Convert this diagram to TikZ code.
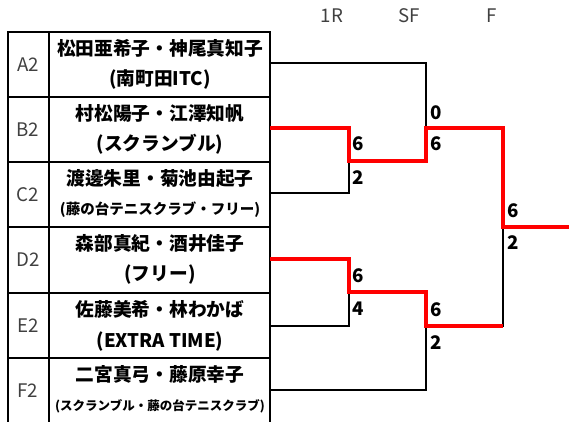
\documentclass[tikz,border=0pt]{standalone}
\usepackage{fontspec}
\setmainfont{Noto Sans CJK JP}
\usetikzlibrary{positioning}
\tikzstyle{tabline} = [line width=2pt, draw=black]
\tikzstyle{lose} = [line width=2pt, draw=black]
\tikzstyle{win} = [line width=4pt, draw=red]
\tikzstyle{player} = [font=\fontsize{18.7}{20}\selectfont\bfseries, 
    inner sep=0pt]
\tikzstyle{seed} = [font=\fontsize{18.7}{20}\selectfont, 
    text=black!75, 
    inner sep=0pt]
\tikzstyle{roundhead} = [seed]
\tikzstyle{score} = [font=\fontsize{18.7}{20}\selectfont\bfseries, 
    anchor=west, 
    inner sep=0pt]

\begin{document}
\begin{tikzpicture}[x=1pt,y=-1pt]
\useasboundingbox (0,0) rectangle (569,422);

\node (hR) [roundhead] at (332,16) {1R};
\node (hSF) [roundhead] at (409,16) {SF};
\node (hF) [roundhead] at (492,16) {F};

% table
\draw [tabline] (8,424) |- (270,32) -- (270,424);
\draw [tabline] (49,32) -- (49,424);
\draw [tabline] (8,97) -- (270,97);
\draw [tabline] (8,162) -- (270,162);
\draw [tabline] (8,227) -- (270,227);
\draw [tabline] (8,293) -- (270,293);
\draw [tabline] (8,358) -- (270,358);

\node (sA) [seed] at (28,64.5) {A2};
\node (nA) [player] at (160,48.5) {松田亜希子・神尾真知子};
\node (cA) [player] at (160,79.5) {(南町田ITC)};

\node (sB) [seed] at (28,129.5) {B2};
\node (nB) [player] at (160,113.5) {村松陽子・江澤知帆};
\node (cB) [player] at (160,144.5) {(スクランブル)};

\node (sC) [seed] at (28,194.5) {C2};
\node (nC) [player] at (160,178.5) {渡邊朱里・菊池由起子};
\node (cC) [player, font=\fontsize{14.5}{16}\selectfont\bfseries] at (160,209.5) {(藤の台テニスクラブ・フリー)};

\node (sD) [seed] at (28,259.5) {D2};
\node (nD) [player] at (160,243.5) {森部真紀・酒井佳子};
\node (cD) [player] at (160,274.5) {(フリー)};

\node (sE) [seed] at (28,325.5) {E2};
\node (nE) [player] at (160,309.5) {佐藤美希・林わかば};
\node (cE) [player] at (160,341.5) {(EXTRA TIME)};

\node (sF) [seed] at (28,390.5) {F2};
\node (nF) [player] at (160,374.5) {二宮真弓・藤原幸子};
\node (cF) [player, font=\fontsize{12.5}{14}\selectfont\bfseries] at (160,406) {(スクランブル・藤の台テニスクラブ)};

% bracket
\coordinate (eA) at (270,63);
\coordinate (eB) at (270,128);
\coordinate (eC) at (270,193);
\coordinate (eD) at (270,259);
\coordinate (eE) at (270,326);
\coordinate (eF) at (270,390);
\coordinate (r1a) at (349,161);
\coordinate (r1b) at (349,292);
\coordinate (sfa) at (426,128);
\coordinate (sfb) at (426,326);
\coordinate (fin) at (503,227);
\coordinate (out) at (569,227);

\draw [lose] (eA) -| (sfa);
\draw [lose] (eC) -| (r1a);
\draw [lose] (eE) -| (r1b);
\draw [lose] (eF) -| (sfb);
\draw [lose] (sfb) -| (fin);

\draw [win] (eB) -| (r1a) -| (sfa) -| (fin) -- (out);
\draw [win] (eD) -| (r1b) -| (sfb) -- (sfb -| fin);

\node (r1aB) [score] at (352,144) {6};
\node (r1aC) [score] at (352,177.5) {2};
\node (r1bD) [score] at (352,276) {6};
\node (r1bE) [score] at (352,309) {4};
\node (sfaA) [score] at (430,112.5) {0};
\node (sfaB) [score] at (430,144) {6};
\node (sfbD) [score] at (430,309.5) {6};
\node (sfbF) [score] at (430,342.5) {2};
\node (finB) [score] at (507,210.5) {6};
\node (finD) [score] at (507,242.5) {2};

\end{tikzpicture}
\end{document}
